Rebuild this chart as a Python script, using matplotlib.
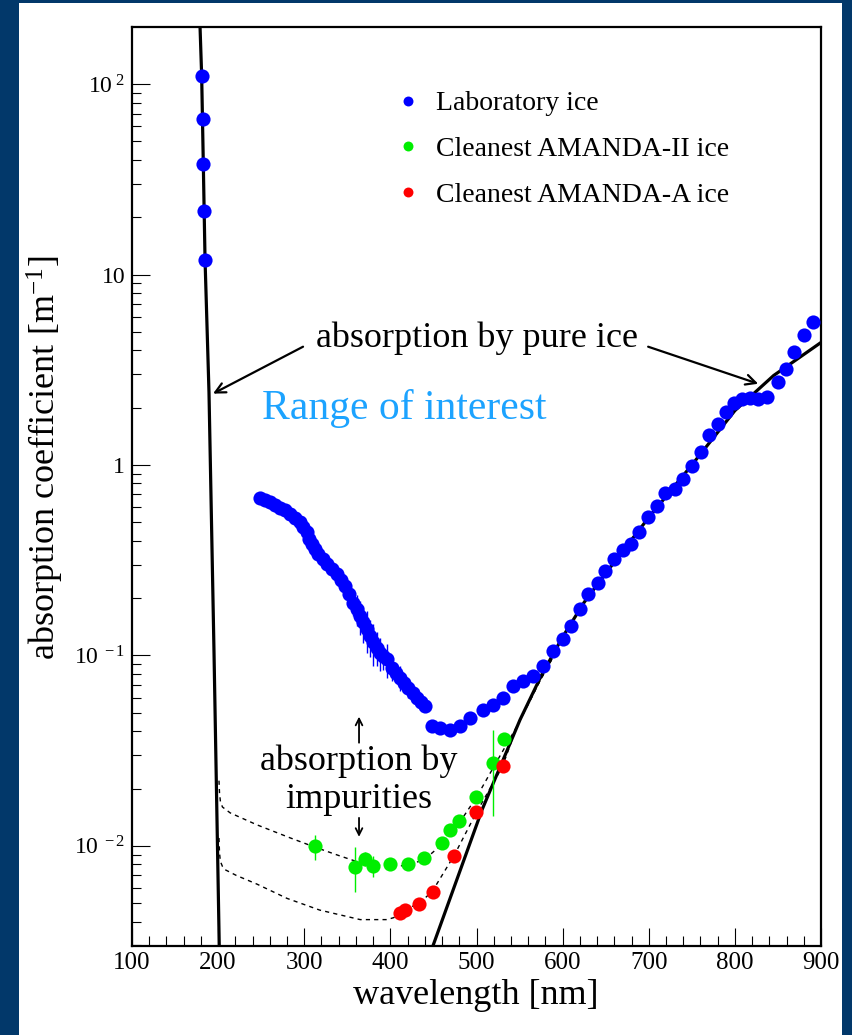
import matplotlib
matplotlib.use('Agg')
import matplotlib.pyplot as plt
from matplotlib.patches import Rectangle
from matplotlib.ticker import FixedLocator, FixedFormatter, MultipleLocator, NullFormatter, LogLocator

plt.rcParams['font.family'] = ['Liberation Serif', 'DejaVu Serif']
plt.rcParams['mathtext.fontset'] = 'custom'
plt.rcParams['mathtext.rm'] = 'Liberation Serif'
plt.rcParams['mathtext.it'] = 'Liberation Serif:italic'

# ---------------- data ----------------
lab_uv_wl = [180.9, 182.1, 182.8, 183.6, 184.8]
lab_uv_abs = [110.7, 65.4, 37.9, 21.6, 11.9]

lab_wl = [248.7, 254.5, 260.3, 266.1, 271.9, 277.7, 283.5, 289.3, 295.1, 299.0,
          302.9, 306.0, 308.7, 312.5, 316.4, 321.5, 326.1, 331.9, 337.7, 342.4,
          347.4, 352.4, 357.0, 361.0, 364.8, 368.7, 372.6, 376.4, 380.3, 384.2,
          388.0, 391.9, 395.8, 401.6, 406.6, 411.3, 416.3, 420.9, 426.0, 430.7,
          435.7, 440.3,
          448.1, 457.7, 469.3, 481.0, 492.6, 508.0, 519.6, 531.2,
          542.9, 554.5, 566.1, 577.7, 589.3, 600.2, 609.5, 619.6, 630.0, 640.5,
          649.4, 659.8, 669.9, 679.2, 689.2, 699.7, 710.1, 719.0, 730.7, 739.6,
          750.0, 760.5, 770.5, 780.2, 789.9, 799.5, 808.1, 817.8, 827.4, 837.2,
          849.5, 859.6, 869.2, 879.7, 890.6]
lab_abs = [0.668, 0.655, 0.637, 0.618, 0.598, 0.578, 0.552, 0.526, 0.499, 0.470,
           0.443, 0.411, 0.384, 0.361, 0.340, 0.320, 0.301, 0.284, 0.267, 0.249,
           0.232, 0.209, 0.189, 0.175, 0.161, 0.149, 0.137, 0.126, 0.117, 0.110,
           0.103, 0.099, 0.0953, 0.0861, 0.0811, 0.0764, 0.0718, 0.0676, 0.0637, 0.0599,
           0.0568, 0.0541,
           0.0425, 0.0416, 0.0408, 0.0425, 0.0470, 0.0520, 0.0552, 0.0599,
           0.0689, 0.0733, 0.0778, 0.0879, 0.105, 0.122, 0.143, 0.175, 0.209, 0.241,
           0.278, 0.320, 0.358, 0.384, 0.443, 0.531, 0.611, 0.710, 0.748, 0.844,
           0.991, 1.17, 1.43, 1.64, 1.89, 2.12, 2.22, 2.24, 2.22, 2.27,
           2.72, 3.20, 3.92, 4.83, 5.64]
lab_relerr = [0, 0, 0, 0, 0, 0, 0, 0, 0, 0,
              0, 0, 0, 0, 0, 0, 0, 0, 0.05, 0.05,
              0.10, 0.12, 0.15, 0.18, 0.20, 0.22, 0.25, 0.22, 0.25, 0.20,
              0.20, 0.15, 0.20, 0.15, 0.12, 0.15, 0.10, 0.12, 0.08, 0.10,
              0.05, 0.05,
              0.06, 0.06, 0.06, 0.05, 0.05, 0.04, 0.04, 0.03,
              0, 0, 0, 0, 0, 0, 0, 0, 0, 0,
              0, 0, 0, 0, 0, 0, 0, 0, 0, 0,
              0, 0, 0, 0, 0, 0, 0, 0, 0, 0,
              0, 0, 0, 0, 0]

amii_wl = [312.5, 359.0, 370.6, 380.3, 399.7, 420.2, 439.5, 459.7, 469.3, 479.8, 499.5, 519.6, 532.4]
amii_abs = [0.0100, 0.00778, 0.0085, 0.00785, 0.0080, 0.0080, 0.0086, 0.0103, 0.0121, 0.0135, 0.0180, 0.0274, 0.0365]
amii_lo = [0.0084, 0.0057, 0.0078, 0.0069, 0.0076, 0.0077, 0.0083, 0.0100, 0.0117, 0.0131, 0.0172, 0.0143, 0.0350]
amii_hi = [0.0114, 0.0099, 0.0093, 0.0088, 0.0084, 0.0083, 0.0089, 0.0106, 0.0125, 0.0139, 0.0188, 0.0408, 0.0380]

ama_wl = [411.3, 417.1, 433.7, 449.2, 474.3, 499.5, 530.5]
ama_abs = [0.00446, 0.0046, 0.00493, 0.00575, 0.00886, 0.0150, 0.0264]

pure_uv_wl = [179.0, 180.9, 182.8, 184.8, 189.4, 195.2, 201.3]
pure_uv_abs = [200.0, 110.0, 38.0, 12.0, 2.4, 0.105, 0.003]
pure_vis_wl = [449.6, 506.5, 550.6, 575.0, 600.0, 625.0, 650.0, 700.0, 750.0, 800.0, 845.0, 900.0]
pure_vis_abs = [0.003, 0.0155, 0.046, 0.078, 0.125, 0.19, 0.27, 0.53, 1.0, 1.93, 2.95, 4.4]

fit_ii_wl = [201.0, 201.6, 202.6, 205.0, 214.0, 245.0, 284.0, 311.0, 340.0, 360.0,
             380.0, 400.0, 420.0, 440.0, 460.0, 480.0, 500.0, 520.0, 547.0, 574.0, 590.0]
fit_ii_abs = [0.022, 0.019, 0.0172, 0.0160, 0.0149, 0.0129, 0.0110, 0.0099, 0.0089, 0.0083,
              0.0080, 0.0078, 0.0079, 0.0085, 0.0102, 0.0132, 0.0180, 0.0260, 0.0425, 0.074, 0.100]
fit_a_wl = [201.0, 201.6, 202.6, 205.0, 208.0, 221.0, 245.0, 280.0, 318.0, 365.0,
            396.0, 404.0, 411.0, 434.0, 449.0, 474.0, 500.0, 530.0, 547.0, 574.0, 590.0]
fit_a_abs = [0.0110, 0.0092, 0.0083, 0.0078, 0.0075, 0.0070, 0.0063, 0.0053, 0.0046, 0.0041,
             0.0041, 0.0042, 0.0045, 0.0050, 0.0058, 0.0089, 0.0150, 0.0260, 0.0425, 0.074, 0.100]

legend_labels = ['Laboratory ice', 'Cleanest AMANDA-II ice', 'Cleanest AMANDA-A ice']
x_ticks = [100, 200, 300, 400, 500, 600, 700, 800, 900]
y_ticks = [0.01, 0.1, 1, 10, 100]
y_ticklabels = [r'$\mathregular{10^{\ -2}}$', r'$\mathregular{10^{\ -1}}$', '1', '10',
                r'$\mathregular{10^{\ 2}}$']

# ---------------- figure ----------------
W, H = 852, 1035
fig = plt.figure(figsize=(W / 100, H / 100), dpi=100)
fig.patch.set_facecolor('#02386a')
fig.patches.append(Rectangle((19 / W, 0), (842 - 19) / W, (H - 3) / H,
                             transform=fig.transFigure, facecolor='white',
                             edgecolor='none', zorder=-5))

ax_l, ax_r, ax_t, ax_b = 132, 821, 27, 946
ax = fig.add_axes([ax_l / W, 1 - ax_b / H, (ax_r - ax_l) / W, (ax_b - ax_t) / H])
ax.set_yscale('log')
ax.set_xlim(100, 900)
ax.set_ylim(0.00298, 199.5)

blue = '#0000ff'
green = '#00ee00'
red = '#ff0000'

# curves
ax.plot(pure_uv_wl, pure_uv_abs, color='black', lw=2.3, zorder=2)
ax.plot(pure_vis_wl, pure_vis_abs, color='black', lw=2.3, zorder=2)
ax.plot(fit_ii_wl, fit_ii_abs, color='black', lw=1.0, ls=(0, (3, 3)), zorder=2)
ax.plot(fit_a_wl, fit_a_abs, color='black', lw=1.0, ls=(0, (3, 3)), zorder=2)

# error bars
lab_yerr = [a * e for a, e in zip(lab_abs, lab_relerr)]
ax.errorbar(lab_wl, lab_abs, yerr=lab_yerr, fmt='none', ecolor=blue, elinewidth=1.0, zorder=3)
amii_yerr = [[a - lo for a, lo in zip(amii_abs, amii_lo)],
             [hi - a for a, hi in zip(amii_abs, amii_hi)]]
ax.errorbar(amii_wl, amii_abs, yerr=amii_yerr, fmt='none', ecolor=green, elinewidth=1.0, zorder=3)

# points
ms = 10.2
ax.plot(lab_uv_wl, lab_uv_abs, 'o', color=blue, ms=ms, mec='none', zorder=4)
h1, = ax.plot(lab_wl, lab_abs, 'o', color=blue, ms=ms, mec='none', zorder=4, label=legend_labels[0])
h2, = ax.plot(amii_wl, amii_abs, 'o', color=green, ms=ms, mec='none', zorder=4, label=legend_labels[1])
h3, = ax.plot(ama_wl, ama_abs, 'o', color=red, ms=ms, mec='none', zorder=4, label=legend_labels[2])

# ticks
ax.xaxis.set_major_locator(FixedLocator(x_ticks))
ax.xaxis.set_minor_locator(MultipleLocator(20))
ax.yaxis.set_major_locator(FixedLocator(y_ticks))
ax.yaxis.set_major_formatter(FixedFormatter(y_ticklabels))
ax.yaxis.set_minor_locator(LogLocator(base=10, subs=range(2, 10), numticks=20))
ax.yaxis.set_minor_formatter(NullFormatter())
ax.tick_params(axis='both', which='both', direction='in', top=False, right=False, width=0.8)
ax.tick_params(axis='x', which='major', length=13, labelsize=18, pad=4)
ax.tick_params(axis='x', which='minor', length=7)
ax.tick_params(axis='y', which='major', length=13, labelsize=17, pad=5)
ax.tick_params(axis='y', which='minor', length=6.5)
for s in ax.spines.values():
    s.set_linewidth(1.6)

# labels
fig.text(476 / W, 1 - 995 / H, 'wavelength [nm]', fontsize=26, ha='center', va='center')
fig.text(45 / W, 1 - 458 / H, r'absorption coefficient [m$^{\mathregular{-1}}$]', fontsize=26,
         ha='center', va='center', rotation=90)

# legend
ax.legend(handles=[h1, h2, h3], loc='upper left', bbox_to_anchor=(394 / W, 1 - 91 / H),
          bbox_transform=fig.transFigure, frameon=False, fontsize=20, markerscale=0.7,
          handlelength=1.0, handletextpad=0.5, labelspacing=0.73, borderpad=0, borderaxespad=0)

# annotations
arr = dict(arrowstyle='->', color='black', lw=1.6, mutation_scale=18, shrinkA=0, shrinkB=0)
ax.text(500.0, 4.18, 'absorption by pure ice', fontsize=26, ha='center', va='baseline')
ax.annotate('', xy=(194.1, 2.37), xytext=(298.6, 4.18), arrowprops=arr)
ax.annotate('', xy=(827.1, 2.67), xytext=(699.3, 4.18), arrowprops=arr)
ax.text(251.0, 1.746, 'Range of interest', fontsize=30, color='#1ca3ff', ha='left', va='baseline')

ax.text(363.1, 0.0251, 'absorption by', fontsize=26, ha='center', va='baseline')
ax.text(363.1, 0.01585, 'impurities', fontsize=26, ha='center', va='baseline')
arr2 = dict(arrowstyle='->', color='black', lw=1.3, mutation_scale=12, shrinkA=0, shrinkB=0)
ax.annotate('', xy=(363.6, 0.0477), xytext=(363.6, 0.0348), arrowprops=arr2)
ax.annotate('', xy=(363.6, 0.01115), xytext=(363.6, 0.01403), arrowprops=arr2)

fig.savefig('out.png', dpi=100, facecolor=fig.get_facecolor())
